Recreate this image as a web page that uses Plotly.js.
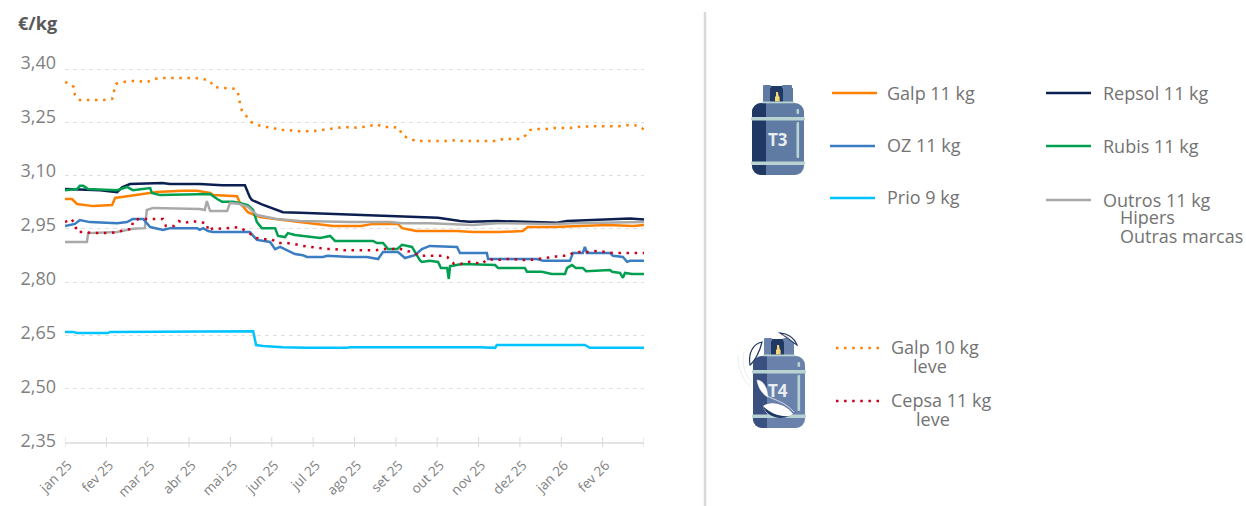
<!DOCTYPE html>
<html><head><meta charset="utf-8">
<script src="https://cdn.plot.ly/plotly-3.0.1.min.js"></script>
<style>html,body{margin:0;padding:0;background:#fff}#c{width:1246px;height:506px}</style>
</head><body><div id="c"></div>
<script>
const tickLabels=['jan 25','fev 25','mar 25','abr 25','mai 25','jun 25','jul 25','ago 25','set 25','out 25','nov 25','dez 25','jan 26','fev 26',''];
const monthTicks=[0,1,2,3,4,5,6,7,8,9,10,11,12,13,14];
const priceTicks=[2.35,2.50,2.65,2.80,2.95,3.10,3.25,3.40];

const galp11X=[0,.17,.29,.68,1.14,1.21,1.50,1.98,2.22,2.83,3.19,3.51,3.58,4.16,4.23,4.42,4.71,5.27,5.85,6.48,7.16,7.45,8.05,8.15,8.49,9.47,9.86,10.52,11.07,11.19,11.80,12.45,13.11,13.74,14];
const galp11Y=[3.034,3.034,3.020,3.014,3.017,3.037,3.042,3.051,3.054,3.057,3.057,3.051,3.045,3.042,3.023,2.997,2.983,2.975,2.966,2.958,2.958,2.964,2.964,2.952,2.944,2.944,2.941,2.941,2.944,2.955,2.955,2.958,2.961,2.958,2.961];

const ozX=[0,.24,.36,.60,1.26,1.50,1.64,1.89,2.06,2.37,2.54,3.19,3.26,3.34,3.46,3.58,4.47,4.64,4.96,5.08,5.20,5.37,5.56,5.75,5.85,6.24,6.34,6.89,7.30,7.57,7.69,8.05,8.22,8.46,8.63,8.82,9.31,9.48,9.55,10.20,10.23,11.41,11.56,12.21,12.28,12.52,12.57,12.62,13.18,13.25,13.49,13.59,13.66,14];
const ozY=[2.958,2.964,2.975,2.969,2.966,2.969,2.978,2.978,2.955,2.947,2.952,2.952,2.947,2.952,2.944,2.941,2.941,2.919,2.913,2.893,2.899,2.890,2.879,2.876,2.871,2.871,2.874,2.871,2.871,2.865,2.885,2.885,2.868,2.876,2.893,2.902,2.899,2.899,2.882,2.882,2.865,2.865,2.860,2.860,2.882,2.882,2.899,2.882,2.882,2.874,2.871,2.857,2.860,2.860];

const prioX=[0,.19,.29,1.04,1.09,1.41,1.53,1.87,1.89,4.55,4.62,4.79,5.27,5.85,6.82,6.89,10.03,10.23,10.40,10.44,12.57,12.69,14];
const prioY=[2.660,2.660,2.657,2.657,2.660,2.660,2.660,2.660,2.662,2.662,2.623,2.620,2.617,2.615,2.615,2.617,2.617,2.615,2.615,2.623,2.623,2.615,2.615];

const repsolX=[0,.85,1.26,1.38,1.57,2.35,2.54,3.26,3.80,4.35,4.47,4.52,4.76,5.08,5.27,5.68,6.41,7.06,7.62,8.27,9.02,9.55,9.79,10.44,11.17,11.90,12.14,12.94,13.66,14];
const repsolY=[3.062,3.059,3.053,3.067,3.076,3.079,3.076,3.076,3.073,3.073,3.039,3.031,3.019,3.005,2.997,2.995,2.992,2.989,2.986,2.983,2.981,2.972,2.970,2.972,2.970,2.967,2.972,2.975,2.979,2.976];

const rubisX=[0,.29,.36,.44,.56,1.26,1.50,1.64,2.06,2.10,2.30,3.26,3.51,3.68,3.80,4.06,4.23,4.42,4.55,4.64,4.76,5.08,5.15,5.32,5.39,5.56,6.09,6.17,6.41,6.53,7.45,7.54,7.69,7.81,8.03,8.15,8.39,8.58,8.63,8.82,9.02,9.09,9.24,9.28,9.31,9.60,10.40,10.47,11.12,11.17,11.53,11.77,12.09,12.14,12.26,12.35,12.52,12.60,13.18,13.23,13.42,13.49,13.54,13.71,14];
const rubisY=[3.059,3.062,3.071,3.071,3.062,3.059,3.068,3.059,3.065,3.051,3.045,3.048,3.048,3.034,3.026,3.026,3.023,3.017,3.003,2.969,2.952,2.952,2.930,2.927,2.938,2.933,2.927,2.924,2.930,2.916,2.916,2.910,2.910,2.893,2.893,2.905,2.899,2.862,2.857,2.860,2.857,2.840,2.840,2.809,2.845,2.851,2.848,2.840,2.840,2.829,2.829,2.823,2.823,2.840,2.848,2.840,2.840,2.831,2.834,2.829,2.826,2.812,2.826,2.823,2.823];

const outrosX=[0,.53,.56,1.26,1.64,1.93,1.98,2.13,3.26,3.38,3.43,3.51,3.92,3.99,4.23,4.42,4.64,5.12,5.68,6.89,7.86,8.15,8.82,9.38,9.86,10.44,11.80,12.28,14];
const outrosY=[2.913,2.913,2.938,2.941,2.950,2.952,3.003,3.009,3.006,3.003,3.028,3.000,3.000,3.023,3.020,3.012,2.989,2.978,2.972,2.969,2.969,2.966,2.966,2.964,2.961,2.966,2.964,2.966,2.969];

const galp10X=[0,.07,.22,.24,.36,.53,.73,.94,1.14,1.18,1.23,1.38,1.60,1.79,1.98,2.15,2.35,2.54,2.73,2.93,3.14,3.34,3.51,3.60,3.80,3.99,4.13,4.21,4.23,4.28,4.38,4.50,4.67,4.84,5.03,5.22,5.42,5.61,5.80,6.00,6.19,6.38,6.58,6.77,6.96,7.16,7.35,7.52,7.69,7.88,8.08,8.15,8.29,8.49,8.68,8.87,9.07,9.26,9.45,9.65,9.84,10.03,10.25,10.44,10.59,10.81,11.00,11.15,11.24,11.44,11.63,11.80,12.02,12.21,12.40,12.60,12.79,12.98,13.20,13.39,13.59,13.78,13.95,14];
const galp10Y=[3.363,3.361,3.349,3.327,3.313,3.313,3.313,3.313,3.316,3.335,3.358,3.363,3.366,3.366,3.363,3.372,3.375,3.375,3.375,3.375,3.375,3.372,3.366,3.349,3.347,3.347,3.344,3.324,3.301,3.282,3.268,3.251,3.242,3.237,3.234,3.228,3.228,3.225,3.225,3.225,3.228,3.231,3.234,3.237,3.234,3.237,3.239,3.245,3.237,3.237,3.234,3.214,3.206,3.197,3.197,3.197,3.195,3.197,3.200,3.197,3.197,3.197,3.197,3.197,3.203,3.203,3.203,3.214,3.228,3.231,3.231,3.234,3.234,3.234,3.237,3.239,3.239,3.239,3.239,3.239,3.242,3.242,3.234,3.228];

const cepsaX=[0,.15,.24,.29,.48,.68,.87,1.06,1.26,1.45,1.62,1.64,1.79,1.98,2.18,2.37,2.44,2.63,2.75,2.87,3.07,3.24,3.43,3.46,3.58,3.80,3.99,4.18,4.33,4.47,4.64,4.81,4.99,5.15,5.37,5.56,5.75,5.95,6.12,6.34,6.53,6.72,6.91,7.13,7.32,7.52,7.69,7.91,8.05,8.24,8.39,8.58,8.77,8.99,9.16,9.24,9.41,9.57,9.77,9.96,10.06,10.23,10.44,10.64,10.83,11.03,11.22,11.41,11.61,11.77,11.99,12.14,12.33,12.52,12.67,12.86,13.06,13.25,13.47,13.66,13.85,14];
const cepsaY=[2.969,2.978,2.964,2.941,2.941,2.938,2.938,2.938,2.941,2.947,2.950,2.972,2.978,2.978,2.978,2.978,2.958,2.958,2.972,2.966,2.972,2.969,2.966,2.944,2.952,2.950,2.952,2.955,2.947,2.936,2.924,2.921,2.921,2.910,2.910,2.907,2.902,2.899,2.896,2.893,2.893,2.890,2.890,2.890,2.890,2.890,2.893,2.893,2.896,2.888,2.885,2.874,2.874,2.874,2.874,2.871,2.851,2.851,2.857,2.854,2.851,2.865,2.862,2.865,2.865,2.862,2.862,2.865,2.868,2.871,2.874,2.874,2.885,2.885,2.885,2.888,2.885,2.882,2.882,2.882,2.882,2.882];

const seriesNames=['Galp 11 kg','OZ 11 kg','Prio 9 kg','Repsol 11 kg','Rubis 11 kg','Outros 11 kg','Galp 10 kg leve','Cepsa 11 kg leve'];
const W=1246,H=506,L=65,R=644,T=55,B=442,GT=69,LT=63,LB=441,HEAD=3;
const fx=p=>(p-L)/(R-L), fy=p=>(B-p)/(B-T);
const DOT='2.5px,5.6px';
const solid=(name,x,y,color)=>({type:'scatter',mode:'lines',name,x,y,line:{color,width:2.5},hoverinfo:'x+y+name',cliponaxis:false});
const dotted=(name,x,y,color)=>({type:'scatter',mode:'lines',name,x,y,line:{color,width:2.5,dash:DOT},hoverinfo:'x+y+name',cliponaxis:false});
const C={galp:'#FF8000',oz:'#3A7DC2',prio:'#00C4FF',repsol:'#0B1F50',rubis:'#00A050',outros:'#A9A9A9',cepsa:'#CC0018'};
const traces=[
 {type:'scatter',mode:'none',x:monthTicks.slice(0,priceTicks.length),y:priceTicks,yaxis:'y2',showlegend:false,hoverinfo:'skip'},
 solid(seriesNames[0],galp11X,galp11Y,C.galp),
 solid(seriesNames[3],repsolX,repsolY,C.repsol),
 solid(seriesNames[4],rubisX,rubisY,C.rubis),
 solid(seriesNames[5],outrosX,outrosY,C.outros),
 solid(seriesNames[1],ozX,ozY,C.oz),
 solid(seriesNames[2],prioX,prioY,C.prio),
 dotted(seriesNames[6],galp10X,galp10Y,C.galp),
 dotted(seriesNames[7],cepsaX,cepsaY,C.cepsa)
];

const seg=(x0,x1,y,color,dash,width)=>({type:'line',xref:'paper',yref:'paper',x0:fx(x0),x1:fx(x1),y0:fy(y),y1:fy(y),line:{color,width:width||2.5,dash:dash||'solid'}});
const shapes=[
 ...monthTicks.map(m=>({type:'line',xref:'x',yref:'paper',x0:m,x1:m,y0:fy(B-5),y1:fy(B+5),line:{color:'#D9D9D9',width:1}})),
 {type:'line',xref:'paper',yref:'paper',x0:fx(705),x1:fx(705),y0:fy(12),y1:fy(506),line:{color:'#D9D9D9',width:2.5}},
 seg(832,877,93,C.galp), seg(830,875,146,C.oz), seg(830,875,198,C.prio),
 seg(1046,1091,93,C.repsol), seg(1046,1091,146,C.rubis), seg(1046,1091,200,C.outros),
 seg(836,881,348,C.galp,DOT,2.5), seg(836,881,401,C.cepsa,DOT,2.5)
];
const GREY='#737373';
const lab=(text,x,y,extra)=>Object.assign({text,xref:'paper',yref:'paper',x:fx(x),y:fy(y),xanchor:'left',yanchor:'middle',showarrow:false,font:{family:'Open Sans',size:18,color:GREY},borderpad:0},extra||{});
const annotations=[
 lab('<b>€/kg</b>',17,23,{font:{family:'Open Sans',size:18,color:'#595959'}}),
 lab('Galp 11 kg',886,93),lab('OZ 11 kg',886,145),lab('Prio 9 kg',886,197),
 lab('Repsol 11 kg',1102,93),lab('Rubis 11 kg',1102,146),lab('Outros 11 kg',1102,200),
 lab('Hipers',1119,217),lab('Outras marcas',1119,236),
 lab('Galp 10 kg',890,347),lab('leve',912,366),lab('Cepsa 11 kg',890,400),lab('leve',915,419),
 lab('<b>T3</b>',778,139,{xanchor:'center',font:{family:'Open Sans',size:17,color:'#E8EEF0'}}),
 lab('<b>T4</b>',778,390,{xanchor:'center',font:{family:'Open Sans',size:17,color:'#E8EEF0'}})
];
const svgURI=s=>'data:image/svg+xml;base64,'+btoa(s);
const bottle=(x0,y0,dark,light,extra)=>`<svg xmlns="http://www.w3.org/2000/svg" width="90" height="115" viewBox="0 0 90 115">
<g transform="translate(${x0},${y0})">
<rect x="0" y="18" width="52" height="72" rx="9" fill="${light}"/>
<path d="M9 18H14V90H9A9 9 0 0 1 0 81V27A9 9 0 0 1 9 18Z" fill="${dark}"/>
<rect x="11" y="3" width="30" height="15" fill="${light}"/>
<rect x="18" y="1" width="13" height="17" fill="#1F3864"/>
<rect x="11" y="0" width="8" height="3.5" rx="1" fill="${light}"/>
<rect x="30" y="0" width="10" height="3.5" rx="1" fill="${light}"/>
<path d="M24 7h2l.6 4 1 1v4.5h-4.6V12l1-1z" fill="#F3D774"/>
<rect x="10" y="16.5" width="32" height="1.8" fill="#B9D3D3"/>
<rect x="-1" y="32" width="54" height="3.4" rx="1" fill="#B9D3D3"/>
<rect x="-1" y="76.5" width="54" height="3.4" rx="1" fill="#B9D3D3"/>
<rect x="44.5" y="37" width="2.6" height="36" rx="1" fill="#B9D3D3"/>
<rect x="44.5" y="24" width="2.6" height="5" rx="1" fill="#B9D3D3"/>
${extra||''}</g></svg>`;
const leaves=`
<path d="M-15 17C-16 30 -10 42 -3 48" fill="none" stroke="#DDE5EA" stroke-width=".7"/>
<path d="M-9 14C-12 28 -7 38 -1 44" fill="none" stroke="#DDE5EA" stroke-width=".7"/>
<path d="M9 4C0 6 -5 15 -3 27C2 23 7 13 9 4Z" fill="#fff" stroke="#1F3864" stroke-width="1.2"/>
<path d="M27 -5C33 -5 41 -1 44 7C39 4 34 -1 27 -5Z" fill="#fff" stroke="#1F3864" stroke-width="1.2"/>
<path d="M28 -3C31 -3 34 -2 36 0" fill="none" stroke="#E8A090" stroke-width=".6"/>
<path d="M4 42C8 42 14 46 15 59C10 57 5 50 4 42Z" fill="#fff" stroke="#DDE5EA" stroke-width=".5"/>
<path d="M10 68C18 62 33 66 40 76C33 80 14 84 10 68Z" fill="#fff"/>
<path d="M10 68C13 78 25 83 37 78C27 79 18 76 10 68Z" fill="#1F3864"/>
<path d="M14 58C22 62 32 64 41 74" fill="none" stroke="#fff" stroke-width=".7"/>`;
const images=[
 {source:svgURI(bottle(17,15,'#1F3864','#5F7AA3')),xref:'paper',yref:'paper',x:fx(735),y:fy(70),sizex:90/(R-L),sizey:115/(B-T),xanchor:'left',yanchor:'top',sizing:'stretch',layer:'below'},
 {source:svgURI(bottle(18,15,'#3A5080','#6A82AB',leaves)),xref:'paper',yref:'paper',x:fx(735),y:fy(323),sizex:90/(R-L),sizey:115/(B-T),xanchor:'left',yanchor:'top',sizing:'stretch',layer:'below'}
];
const yMin=priceTicks[0], yMax=priceTicks[priceTicks.length-1];
const layout={
 width:W,height:H,autosize:false,showlegend:false,
 margin:{l:L,r:W-R,t:T,b:H-B,pad:0},
 paper_bgcolor:'#fff',plot_bgcolor:'rgba(0,0,0,0)',separators:', ',
 font:{family:'Open Sans',color:'#7F7F7F'},
 xaxis:{range:[0,14],tickmode:'array',tickvals:monthTicks,ticktext:tickLabels,tickangle:-45,ticks:'',showgrid:false,zeroline:false,showline:true,linecolor:'#E4E4E4',linewidth:2,tickfont:{family:'Open Sans',size:13.5,color:'#7F7F7F'},ticklabelstandoff:8,ticklabelshift:3,automargin:false},
 yaxis:{domain:[0,(B-GT+HEAD)/(B-T)],range:[yMin,yMax+HEAD*(yMax-yMin)/(B-GT)],tickmode:'array',tickvals:priceTicks,showticklabels:false,ticks:'',showline:false,zeroline:false,showgrid:true,gridcolor:'#E0E0E0',griddash:'4px,4px',gridwidth:1,automargin:false},
 yaxis2:{side:'left',anchor:'x',domain:[(B-LB)/(B-T),(B-LT)/(B-T)],range:[yMin,yMax],tickmode:'array',tickvals:priceTicks,tickformat:'.2f',ticks:'',showline:false,zeroline:false,showgrid:false,ticklabelstandoff:8,tickfont:{family:'Open Sans',size:18,color:'#7F7F7F'},automargin:false},
 shapes,annotations,images
};
Plotly.newPlot('c',traces,layout,{displayModeBar:false,staticPlot:true});
</script></body></html>
